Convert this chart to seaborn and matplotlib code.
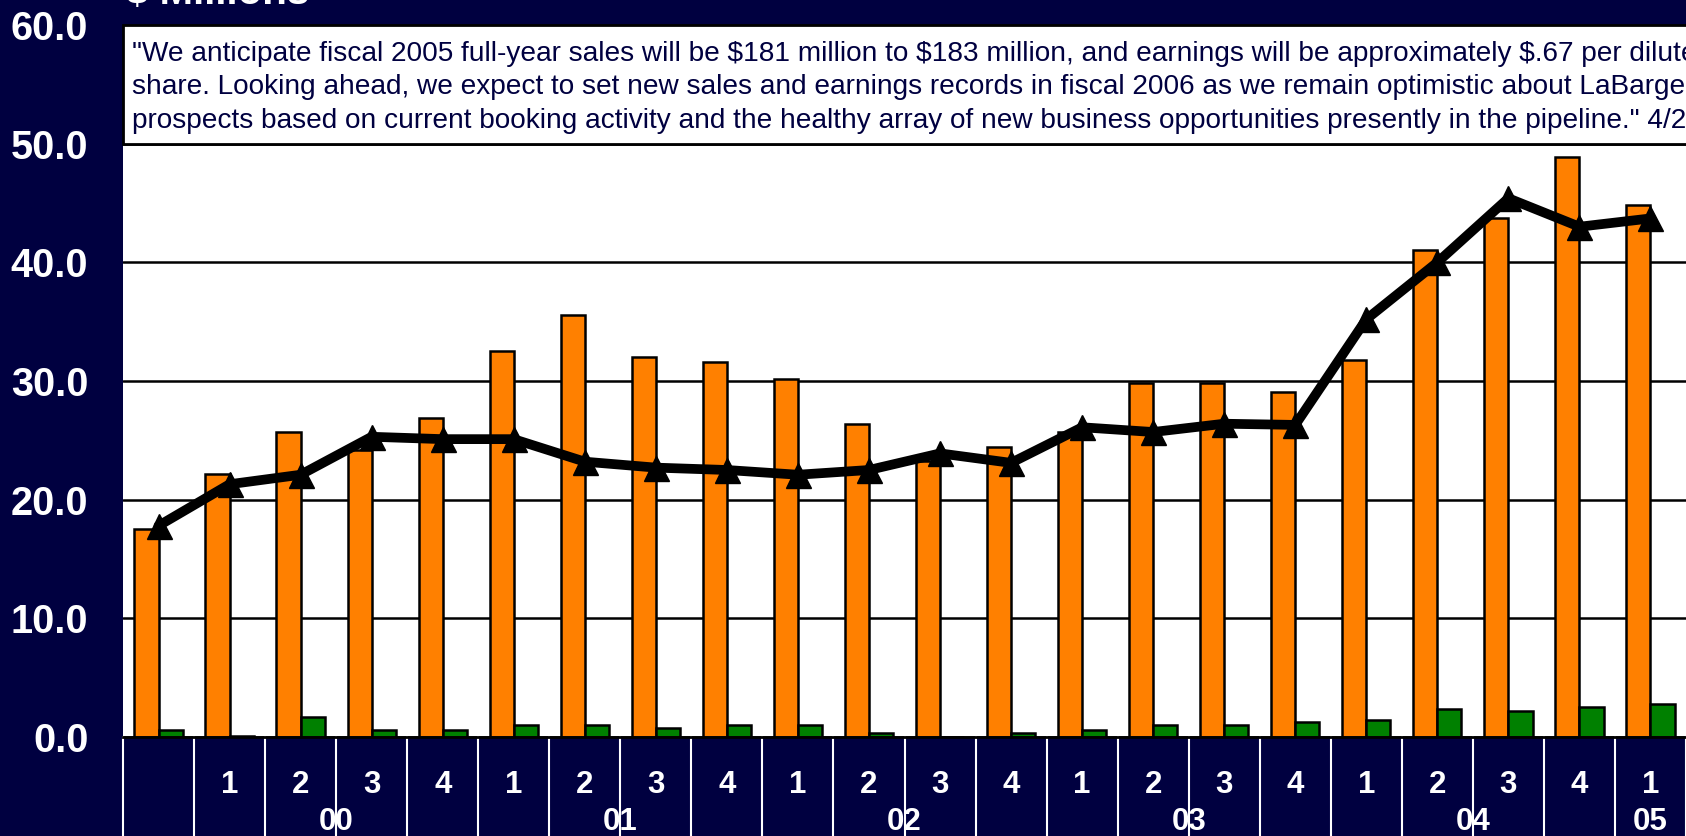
import matplotlib
matplotlib.use("Agg")
import matplotlib.pyplot as plt
from matplotlib.patches import Rectangle
import matplotlib.transforms as mtransforms
import seaborn as sns
import pandas as pd

# quarterly data, $ millions
quarters = ['', '1', '2', '3', '4', '1', '2', '3', '4', '1', '2', '3', '4',
            '1', '2', '3', '4', '1', '2', '3', '4', '1']
years = ['00', '01', '02', '03', '04', '05']
year_pos = [2.5, 6.5, 10.5, 14.5, 18.5, 21]
sales = [17.5, 22.2, 25.7, 24.2, 26.9, 32.5, 35.6, 32.0, 31.6, 30.2, 26.4,
         23.3, 24.4, 25.7, 29.8, 29.8, 29.1, 31.8, 41.0, 43.7, 48.9, 44.8]
earnings = [0.6, 0.1, 1.7, 0.6, 0.6, 1.0, 1.0, 0.8, 1.0, 1.0, 0.35,
            0.0, 0.35, 0.55, 1.0, 1.0, 1.25, 1.45, 2.35, 2.15, 2.55, 2.8]
backlog = [17.8, 21.3, 22.1, 25.3, 25.1, 25.1, 23.2, 22.7, 22.5, 22.1, 22.5,
           23.9, 23.1, 26.1, 25.7, 26.4, 26.3, 35.2, 40.0, 45.4, 43.0, 43.7]
yticks = [0, 10, 20, 30, 40, 50, 60]

quote = ['"We anticipate fiscal 2005 full-year sales will be $181 million to $183 million, and earnings will be approximately $.67 per diluted',
         "share. Looking ahead, we expect to set new sales and earnings records in fiscal 2006 as we remain optimistic about LaBarge's",
         'prospects based on current booking activity and the healthy array of new business opportunities presently in the pipeline." 4/2']

navy = '#000040'
orange = '#FF8000'
green = '#008000'

sns.set_theme(style='white')
plt.rcParams['font.family'] = ['Liberation Sans', 'DejaVu Sans']

idx = list(range(len(sales)))
df = pd.DataFrame({
    'q': idx * 2,
    'value': sales + earnings,
    'series': ['Sales'] * len(sales) + ['Net Earnings'] * len(earnings),
})

W, H = 1686, 836
fig = plt.figure(figsize=(W / 100, H / 100), dpi=100, facecolor=navy)
ax = fig.add_axes([123 / W, (H - 737) / H, (W - 123) / W, (737 - 25) / H])
ax.set_facecolor('white')

sns.barplot(data=df, x='q', y='value', hue='series', hue_order=['Sales', 'Net Earnings'],
            palette=[orange, green], saturation=1, width=0.68, gap=0, errorbar=None,
            edgecolor='black', linewidth=1.8, legend=False, ax=ax, zorder=2)
sns.lineplot(x=idx, y=backlog, color='black', linewidth=7, marker='^', markersize=18,
             markeredgecolor='black', markeredgewidth=1, ax=ax, zorder=4, legend=False)

ax.set_xlim(-0.5, 21.5)
ax.set_ylim(0, 60)
ax.set_yticks(yticks)
ax.set_yticklabels([f'{v:.1f}' for v in yticks])
ax.tick_params(axis='y', length=0, pad=25, labelcolor='white', labelsize=28.5)
for t in ax.get_yticklabels():
    t.set_fontweight('bold')
ax.set_xticks([])
ax.set_xlabel('')
ax.set_ylabel('')
ax.grid(axis='y', color='black', linewidth=1.8)
ax.set_axisbelow(True)
for s in ['top', 'right', 'left']:
    ax.spines[s].set_visible(False)
ax.spines['bottom'].set_color('black')
ax.spines['bottom'].set_linewidth(2)

# quote box across the top (runs off the right edge, as in the slide)
ax.add_patch(Rectangle((-0.5, 50.0), 22.5, 10.0, facecolor='white', edgecolor='black',
                       linewidth=2, zorder=6, clip_on=False))
for line, yv in zip(quote, [57.55, 54.75, 51.95]):
    ax.text(-0.375, yv, line, color=navy, fontsize=20.2, va='center', ha='left',
            zorder=7, parse_math=False, clip_on=False)

# category axis below the plot
trans = mtransforms.blended_transform_factory(ax.transData, ax.transAxes)
bottom = -(H - 737) / (737 - 25)
for b in range(len(sales) + 1):
    ax.plot([b - 0.5, b - 0.5], [0, bottom], color='white', linewidth=1.5,
            transform=trans, clip_on=False, zorder=1)
for i, q in enumerate(quarters):
    ax.text(i, -48 / (737 - 25), q, transform=trans, color='white', fontsize=22.5,
            fontweight='bold', ha='center', va='center')
for p, y in zip(year_pos, years):
    ax.text(p, -85 / (737 - 25), y, transform=trans, color='white', fontsize=22.5,
            fontweight='bold', ha='center', va='center')

fig.text(126 / W, 1 - 4 / H, '$ Millions', color='white', fontsize=29, fontweight='bold',
         ha='left', va='baseline', parse_math=False)

fig.savefig('out.png', dpi=100, facecolor=navy)
